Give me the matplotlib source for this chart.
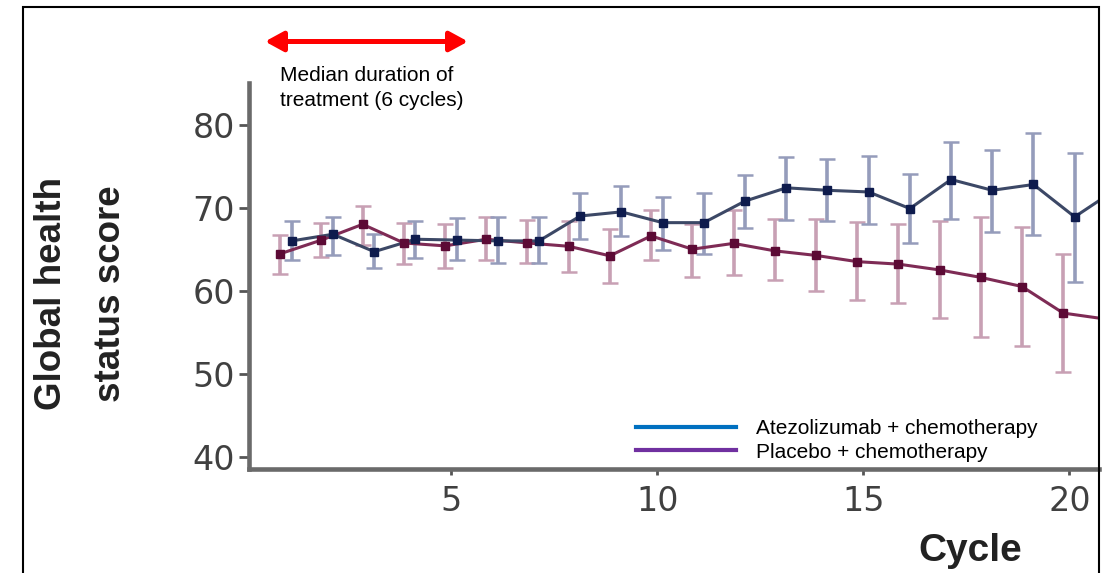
import matplotlib
matplotlib.use('Agg')
import matplotlib.pyplot as plt
from matplotlib.lines import Line2D
from matplotlib.patches import FancyArrowPatch, Rectangle
import numpy as np

# 数据
cycles = np.arange(1, 22)

atezo_mean = [66.0, 66.8, 64.7, 66.2, 66.1, 66.0, 66.0, 69.0, 69.5, 68.2,
              68.2, 70.8, 72.4, 72.1, 71.9, 69.9, 73.4, 72.1, 72.8, 68.9, 72.2]
# 置信区间只读到第20周期（第21周期在图框外）
atezo_lo = [63.7, 64.3, 62.7, 63.9, 63.7, 63.3, 63.3, 66.2, 66.6, 64.9,
            64.4, 67.5, 68.5, 68.4, 68.0, 65.8, 68.7, 67.1, 66.7, 61.1]
atezo_hi = [68.35, 68.85, 66.8, 68.35, 68.75, 68.9, 68.9, 71.8, 72.6, 71.3,
            71.8, 73.9, 76.1, 75.9, 76.2, 74.1, 77.9, 77.0, 79.0, 76.6]

placebo_mean = [64.45, 66.1, 68.0, 65.75, 65.4, 66.2, 65.75, 65.35, 64.2, 66.6,
                65.0, 65.7, 64.8, 64.25, 63.5, 63.2, 62.5, 61.6, 60.5, 57.3, 56.6]
placebo_lo = [62.05, 64.1, 65.55, 63.25, 62.7, 63.7, 63.3, 62.3, 60.95, 63.7,
              61.7, 61.9, 61.3, 60.0, 58.9, 58.5, 56.7, 54.4, 53.3, 50.2]
placebo_hi = [66.75, 68.15, 70.2, 68.15, 68.0, 68.9, 68.55, 68.4, 67.4, 69.7,
              68.0, 69.7, 68.7, 68.7, 68.3, 68.0, 68.4, 68.9, 67.7, 64.4]

y_ticks = [40, 50, 60, 70, 80]
x_ticks = [5, 10, 15, 20]
legend_labels = ['Atezolizumab + chemotherapy', 'Placebo + chemotherapy']
note_text = 'Median duration of\ntreatment (6 cycles)'

W, H = 1102, 573
fig = plt.figure(figsize=(W / 100, H / 100), dpi=100)
fig.patch.set_facecolor('white')

# 坐标轴区域（像素换算）
ax = fig.add_axes([249 / W, 1 - 469 / H, (1099 - 249) / W, (469 - 83.3) / H])
ax.set_xlim(0.092, 20.72)
ax.set_ylim(38.5, 85.0)


def draw_series(mean, lo, hi, shift, bar_col, line_col, mark_col):
    x = cycles + shift
    mean = np.array(mean)
    n = len(lo)
    err = [mean[:n] - np.array(lo), np.array(hi) - mean[:n]]
    ax.errorbar(x[:n], mean[:n], yerr=err, fmt='none', ecolor=bar_col,
                elinewidth=2.6, capsize=6, capthick=1.8, zorder=2)
    ax.plot(x, mean, color=line_col, lw=2.2, zorder=3)
    ax.plot(x, mean, 's', color=mark_col, ms=6, zorder=4)


draw_series(placebo_mean, placebo_lo, placebo_hi, -0.15,
            '#c8a0b4', '#7e2b55', '#5c0a35')
draw_series(atezo_mean, atezo_lo, atezo_hi, 0.13,
            '#959cbb', '#3c4866', '#0e1b4d')

# 坐标轴样式
for s in ['top', 'right']:
    ax.spines[s].set_visible(False)
for s in ['left', 'bottom']:
    ax.spines[s].set_color('#6a6a6a')
    ax.spines[s].set_linewidth(3.3)

ax.set_yticks(y_ticks)
ax.set_xticks(x_ticks)
ax.tick_params(axis='y', labelsize=24, labelcolor='#404040', color='#555555',
               width=2.0, length=7, pad=3)
ax.tick_params(axis='x', labelsize=24, labelcolor='#404040', color='#555555',
               width=2.0, length=4.5, pad=7)

ax.set_xlabel('Cycle', fontsize=28, fontweight='bold',
              family='Liberation Sans', color='#222222')
ax.xaxis.set_label_coords(0.848, -0.165)

fig.text(81 / W, 1 - 294 / H, 'Global health\nstatus score', rotation=90,
         ha='center', va='center', multialignment='center',
         fontsize=26.5, fontweight='bold', family='Liberation Sans',
         color='#222222', linespacing=1.88)

# 图例
handles = [Line2D([], [], color='#0070C0', lw=3),
           Line2D([], [], color='#7030A0', lw=3)]
ax.legend(handles, legend_labels, loc='upper left',
          bbox_to_anchor=(636 / W, 1 - 419 / H), bbox_transform=fig.transFigure,
          frameon=False, borderpad=0, borderaxespad=0, handlelength=4.8,
          handletextpad=0.96, labelspacing=0.22,
          prop={'family': 'Liberation Sans', 'size': 15})

# 红色双向箭头 + 注释
arrow = FancyArrowPatch((265 / W, 1 - 41.5 / H), (468 / W, 1 - 41.5 / H),
                        transform=fig.transFigure,
                        arrowstyle='<|-|>,head_length=11,head_width=6',
                        mutation_scale=1, lw=3.6, color='#ff0000',
                        shrinkA=0, shrinkB=0)
fig.add_artist(arrow)
fig.text(280 / W, 1 - 66 / H, note_text, ha='left', va='top', fontsize=15,
         family='Liberation Sans', color='black', linespacing=1.42)

# 外框
frame = Rectangle((23 / W, -0.05), (1099 - 23) / W, 1.05 - 7 / H,
                  transform=fig.transFigure, fill=False, edgecolor='black',
                  lw=1.5, clip_on=False)
fig.add_artist(frame)

fig.savefig('out.png', dpi=100)
